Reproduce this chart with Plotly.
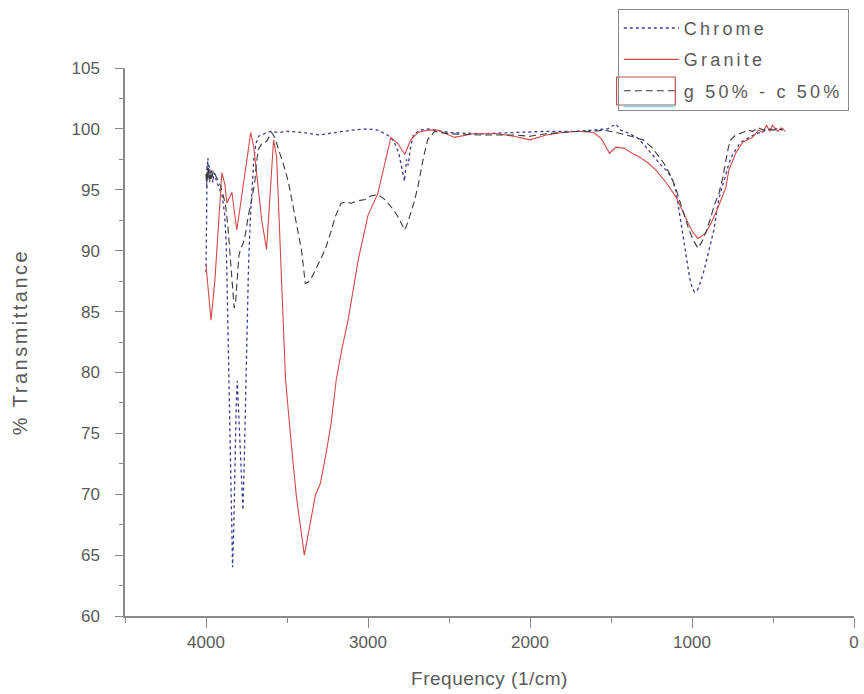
import plotly.graph_objects as go

# FTIR spectra: (wavenumber 1/cm, % transmittance)
chrome = [
    (4000, 88.2), (3999, 90.5), (3998, 89.5), (3997, 92.5), (3996, 91.8), (3995, 94.5),
    (3994, 94.0), (3993, 96.8), (3988, 97.6), (3984, 96.0), (3979, 97.0), (3973, 95.8),
    (3966, 96.6), (3958, 95.6), (3950, 96.4), (3935, 95.7), (3915, 95.0), (3900, 94.5),
    (3885, 93.0), (3875, 90.5), (3868, 86.0), (3860, 80.0), (3852, 73.0), (3844, 67.5),
    (3836, 64.0), (3829, 67.0), (3821, 73.5), (3813, 77.5), (3807, 79.3), (3798, 76.5),
    (3788, 72.5), (3778, 69.5), (3772, 68.7), (3765, 72.0), (3757, 77.5), (3748, 83.5),
    (3738, 88.5), (3727, 92.5), (3715, 95.8), (3705, 97.5), (3692, 98.8), (3675, 99.4),
    (3640, 99.6), (3600, 99.8), (3550, 99.7), (3500, 99.8), (3400, 99.7), (3300, 99.5),
    (3200, 99.7), (3100, 99.9), (3000, 100.0), (2940, 99.9), (2880, 99.5), (2840, 99.0),
    (2810, 98.0), (2790, 96.5), (2775, 95.7), (2762, 97.5), (2752, 97.0), (2740, 98.3),
    (2720, 99.5), (2680, 99.9), (2620, 100.0), (2500, 99.7), (2300, 99.6), (2100, 99.7),
    (1900, 99.8), (1700, 99.8), (1600, 99.9), (1520, 100.0), (1470, 100.4), (1440, 99.9),
    (1400, 99.7), (1340, 99.3), (1290, 98.6), (1240, 97.8), (1190, 97.0), (1150, 96.5),
    (1120, 95.8), (1100, 95.0), (1080, 93.3), (1060, 91.7), (1045, 90.3), (1030, 89.0),
    (1015, 87.8), (1000, 87.0), (985, 86.6), (965, 86.8), (945, 87.5), (925, 88.4),
    (905, 89.5), (885, 90.6), (865, 91.7), (850, 93.0), (835, 94.2), (815, 95.2),
    (800, 95.8), (780, 96.8), (760, 97.6), (730, 98.3), (700, 98.9), (660, 99.2),
    (620, 99.5), (580, 99.7), (540, 99.9), (500, 100.0), (460, 100.0), (430, 100.0),
]

granite = [
    (4000, 88.8), (3994, 88.0), (3969, 84.3), (3945, 87.6), (3920, 92.9), (3902, 96.4),
    (3883, 95.4), (3871, 93.9), (3840, 94.8), (3810, 91.7), (3790, 93.5), (3767, 95.8),
    (3745, 98.0), (3724, 99.7), (3705, 98.5), (3687, 96.4), (3656, 92.5), (3626, 90.1),
    (3605, 94.5), (3583, 99.1), (3564, 97.7), (3534, 87.0), (3509, 79.4), (3472, 73.9),
    (3442, 69.8), (3393, 65.0), (3350, 67.9), (3325, 69.9), (3294, 70.9), (3258, 73.4),
    (3227, 75.9), (3196, 79.4), (3160, 82.0), (3123, 84.3), (3061, 89.2), (3000, 92.9),
    (2939, 94.7), (2890, 97.4), (2859, 99.3), (2816, 98.8), (2773, 97.9), (2736, 99.1),
    (2693, 99.7), (2632, 99.9), (2571, 99.9), (2466, 99.3), (2350, 99.6), (2200, 99.6),
    (2100, 99.4), (2000, 99.1), (1900, 99.5), (1800, 99.7), (1700, 99.8), (1607, 99.7),
    (1560, 99.2), (1509, 98.0), (1470, 98.5), (1417, 98.4), (1370, 98.0), (1325, 97.7),
    (1270, 97.2), (1221, 96.6), (1160, 95.6), (1098, 94.4), (1055, 93.1), (1025, 92.3),
    (994, 91.5), (963, 91.0), (940, 91.2), (914, 91.5), (885, 92.2), (853, 93.1),
    (820, 94.2), (791, 95.2), (773, 96.6), (750, 97.4), (730, 98.0), (687, 98.9),
    (660, 99.1), (626, 99.3), (590, 99.9), (564, 99.7), (540, 100.3), (520, 99.8),
    (503, 100.3), (470, 99.8), (450, 100.1), (423, 99.8),
]

mix = [
    (4000, 96.3), (3996, 95.2), (3993, 97.0), (3989, 95.8), (3985, 96.8), (3978, 95.6),
    (3972, 96.5), (3965, 95.8), (3955, 96.6), (3940, 96.2), (3925, 95.8), (3910, 95.3),
    (3895, 94.6), (3880, 93.8), (3865, 92.0), (3850, 89.5), (3838, 86.8), (3826, 85.3),
    (3818, 85.6), (3808, 87.5), (3797, 89.6), (3785, 90.2), (3770, 90.6), (3755, 91.5),
    (3740, 92.8), (3718, 94.2), (3700, 95.5), (3688, 97.2), (3678, 98.3), (3655, 98.8),
    (3625, 99.0), (3595, 99.7), (3575, 99.3), (3552, 98.3), (3520, 97.0), (3491, 95.6),
    (3470, 94.2), (3448, 92.8), (3430, 91.5), (3411, 90.1), (3398, 88.6), (3387, 87.3),
    (3370, 87.4), (3356, 87.6), (3325, 88.4), (3295, 89.2), (3264, 90.1), (3230, 91.5),
    (3202, 92.8), (3166, 93.9), (3140, 94.0), (3104, 93.9), (3060, 94.1), (3018, 94.2),
    (2980, 94.5), (2939, 94.6), (2905, 94.3), (2877, 93.9), (2845, 93.4), (2816, 92.8),
    (2795, 92.2), (2773, 91.7), (2755, 92.3), (2736, 93.1), (2715, 94.0), (2693, 95.2),
    (2660, 97.5), (2632, 99.1), (2589, 99.8), (2550, 99.7), (2500, 99.6), (2300, 99.5),
    (2100, 99.5), (2000, 99.4), (1900, 99.6), (1800, 99.7), (1700, 99.8), (1600, 99.8),
    (1546, 99.9), (1466, 99.7), (1400, 99.5), (1350, 99.3), (1301, 99.1), (1250, 98.5),
    (1202, 97.7), (1170, 97.1), (1141, 96.4), (1120, 95.8), (1098, 95.0), (1075, 94.0),
    (1050, 93.0), (1018, 91.7), (990, 90.8), (963, 90.2), (940, 90.7), (914, 91.5),
    (890, 92.5), (860, 93.8), (834, 94.7), (810, 96.0), (791, 97.4), (775, 98.5),
    (761, 99.1), (730, 99.5), (687, 99.7), (650, 99.9), (626, 99.8), (590, 100.1),
    (560, 99.9), (530, 100.0), (500, 99.9), (470, 100.0), (440, 99.9),
]

series_names = ["Chrome", "Granite", "g 50% - c 50%"]

x_ticks = [4000, 3000, 2000, 1000, 0]
y_ticks = [60, 65, 70, 75, 80, 85, 90, 95, 100, 105]

FONT = "Liberation Sans, Arial, sans-serif"
AXIS_GRAY = "#8a8a8a"
TEXT_GRAY = "#5a5a5a"


def spaced(text, px):
    """Wrap text in a span with extra letter spacing."""
    return f'<span style="letter-spacing:{px}px">{text}</span>'


fig = go.Figure()

styles = [
    dict(color="#3b3b96", width=1.3, dash="dot"),
    dict(color="#d24a48", width=1.1, dash="solid"),
    dict(color="#3a3a3a", width=1.1, dash="7px,4px"),
]

for i, (name, data, line) in enumerate(zip(series_names, [chrome, granite, mix], styles)):
    xs = [p[0] for p in data]
    ys = [p[1] for p in data]
    fig.add_trace(go.Scatter(
        x=xs, y=ys, mode="lines", name=spaced(name, 3.2), line=line,
        legendgroup=f"g{i}",
    ))

# frame drawn around the third legend sample
fig.add_shape(type="rect", xref="paper", yref="paper",
              x0=0.6744, x1=0.7548, y0=0.9325, y1=0.9836,
              line=dict(color="#c0504d", width=1.2))
fig.add_shape(type="line", xref="paper", yref="paper",
              x0=0.6839, x1=0.7548, y0=0.9300, y1=0.9300,
              line=dict(color="#7fd6e6", width=2))

fig.update_layout(
    width=864,
    height=694,
    margin=dict(l=125, r=5, t=68, b=78),
    paper_bgcolor="white",
    plot_bgcolor="white",
    font=dict(family=FONT, color=TEXT_GRAY, size=17),
    showlegend=True,
    legend=dict(
        x=0.676, y=1.108, xanchor="left", yanchor="top",
        bgcolor="rgba(255,255,255,0)", bordercolor="#8a8a8a", borderwidth=1,
        font=dict(family=FONT, size=18, color=TEXT_GRAY),
        itemwidth=55, tracegroupgap=5,
    ),
    xaxis=dict(
        range=[4500, 0],
        tickmode="array", tickvals=x_ticks, ticktext=[str(v) for v in x_ticks],
        ticks="outside", ticklen=10, tickwidth=1.2, tickcolor=AXIS_GRAY,
        minor=dict(dtick=500, tick0=0, ticks="outside", ticklen=5, tickcolor=AXIS_GRAY, tickwidth=1.2),
        showline=True, linecolor=AXIS_GRAY, linewidth=1.5,
        showgrid=False, zeroline=False,
        tickfont=dict(size=17, color=TEXT_GRAY),
        title=dict(text=spaced("Frequency (1/cm)", 0.5), font=dict(size=19, color=TEXT_GRAY), standoff=21),
    ),
    yaxis=dict(
        range=[60, 105],
        tickmode="array", tickvals=y_ticks, ticktext=[str(v) for v in y_ticks],
        ticks="outside", ticklen=8, tickwidth=1.2, tickcolor=AXIS_GRAY,
        minor=dict(dtick=2.5, tick0=60, ticks="outside", ticklen=4, tickcolor=AXIS_GRAY, tickwidth=1.2),
        showline=True, linecolor=AXIS_GRAY, linewidth=1.5,
        showgrid=False, zeroline=False,
        ticklabelstandoff=12,
        tickfont=dict(size=17, color=TEXT_GRAY),
        title=dict(text=spaced("% Transmittance", 2.5), font=dict(size=20, color=TEXT_GRAY), standoff=38),
    ),
)

fig.write_html("out.html")
